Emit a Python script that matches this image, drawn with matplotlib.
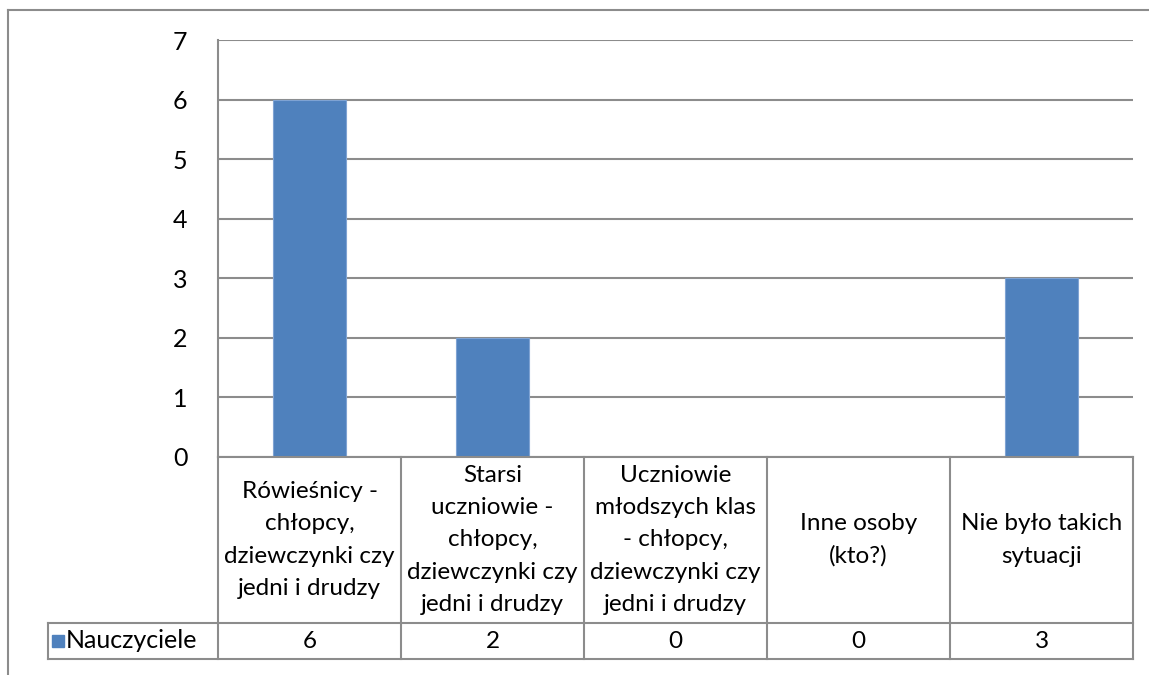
import matplotlib.pyplot as plt
from matplotlib.transforms import blended_transform_factory
from matplotlib.lines import Line2D
from matplotlib.patches import Rectangle

# data
categories = [
    "Rówieśnicy -\nchłopcy,\ndziewczynki czy\njedni i drudzy",
    "Starsi\nuczniowie -\nchłopcy,\ndziewczynki czy\njedni i drudzy",
    "Uczniowie\nmłodszych klas\n- chłopcy,\ndziewczynki czy\njedni i drudzy",
    "Inne osoby\n(kto?)",
    "Nie było takich\nsytuacji",
]
series_name = "Nauczyciele"
values = [6, 2, 0, 0, 3]

W, H = 1149, 675
BAR = "#4F81BD"
GRID = "#8C8C8C"
FONT = "Lato"
FS = 17.5

def fx(px):
    return px / W

def fy(py):
    # py measured from top of image
    return 1 - py / H

fig = plt.figure(figsize=(W / 100, H / 100), dpi=100)
fig.patch.set_facecolor("white")

# outer chart border (cropped on right / bottom)
fig.add_artist(Line2D([fx(8), fx(8)], [fy(10), 0], color=GRID, lw=1.5, transform=fig.transFigure))
fig.add_artist(Line2D([fx(8), 1], [fy(10), fy(10)], color=GRID, lw=1.5, transform=fig.transFigure))

ax = fig.add_axes([fx(218), fy(457), fx(1133) - fx(218), fy(40) - fy(457)])
x = range(len(values))
ax.bar(x, values, width=0.395, color=BAR, edgecolor="#7FA3D3", linewidth=0.8, zorder=3)
ax.set_xlim(-0.5, len(values) - 0.5)
ax.set_ylim(0, 7)
ax.set_yticks(range(8))
ax.yaxis.grid(True, color=GRID, lw=1.5, zorder=0)
ax.set_xticks([])
for s in ["top", "right", "bottom"]:
    ax.spines[s].set_visible(False)
ax.spines["left"].set_color(GRID)
ax.spines["left"].set_linewidth(1.5)
ax.tick_params(axis="y", length=0, pad=22, labelsize=FS + 0.5)
for lab in ax.get_yticklabels():
    lab.set_fontfamily(FONT)

# data table below the plot
tr = blended_transform_factory(ax.transData, fig.transFigure)
y_top, y_mid, y_bot = fy(457), fy(623), fy(659)
lw = 1.5
for i in range(len(values) + 1):
    xb = i - 0.5
    fig.add_artist(Line2D([xb, xb], [y_top, y_bot], color=GRID, lw=lw, transform=tr))
fig.add_artist(Line2D([-0.5, len(values) - 0.5], [y_top, y_top], color=GRID, lw=lw, transform=tr))

for i, (cat, v) in enumerate(zip(categories, values)):
    fig.text(0, (y_top + y_mid) / 2, cat, transform=tr, ha="center", va="center",
             fontsize=FS, family=FONT, linespacing=1.66).set_x(i)
    fig.text(0, (y_mid + y_bot) / 2, str(v), transform=tr, ha="center", va="center",
             fontsize=FS, family=FONT).set_x(i)

# legend cell row
for yy in (y_mid, y_bot):
    fig.add_artist(Line2D([fx(48), fx(1133)], [yy, yy], color=GRID, lw=lw, transform=fig.transFigure))
fig.add_artist(Line2D([fx(48), fx(48)], [y_mid, y_bot], color=GRID, lw=lw, transform=fig.transFigure))
fig.add_artist(Rectangle((fx(52), fy(647)), fx(12), fy(635) - fy(647), color=BAR, transform=fig.transFigure))
fig.text(fx(66), (y_mid + y_bot) / 2, series_name, ha="left", va="center", fontsize=FS + 0.5, family=FONT)

fig.savefig("out.png", dpi=100)
